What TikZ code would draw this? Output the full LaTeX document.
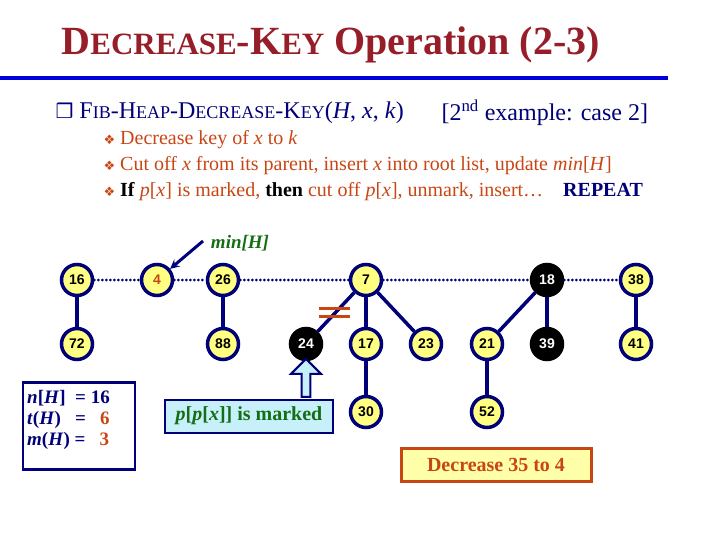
\documentclass[tikz,border=0pt]{standalone}
\usepackage{fontspec}
\setmainfont{Liberation Serif}
\newfontfamily\arialfont{Liberation Sans}
\newfontfamily\symfont{DejaVu Sans}
\usetikzlibrary{shapes.arrows}
\definecolor{titlered}{RGB}{150,30,40}
\definecolor{rulblue}{RGB}{0,0,220}
\definecolor{navy}{RGB}{0,0,120}
\definecolor{textred}{RGB}{200,70,20}
\definecolor{keyyel}{RGB}{255,255,130}
\definecolor{mingreen}{RGB}{20,110,20}
\definecolor{boxcyan}{RGB}{200,240,250}
\definecolor{boxyel}{RGB}{255,255,170}
\tikzset{
  key/.style={circle,draw=navy,line width=3.5pt,fill=keyyel,minimum size=31pt,inner sep=0pt,font=\arialfont\bfseries\fontsize{14}{14}\selectfont},
  marked/.style={key,draw=black,fill=black,text=white},
  tree/.style={draw=navy,line width=3.5pt},
  rootlist/.style={draw=navy,line width=3pt,line cap=round,dash pattern=on 0pt off 4pt}
}
\begin{document}
\begin{tikzpicture}[x=1pt,y=-1pt]
    \useasboundingbox (0,0) rectangle (720,540);

    % title and rule
    \node[anchor=west,text=titlered,font=\bfseries] at (58,45)
      {{\fontsize{40}{40}\selectfont D}{\fontsize{31}{31}\selectfont ECREASE}{\fontsize{40}{40}\selectfont -K}{\fontsize{31}{31}\selectfont EY}{\fontsize{40}{40}\selectfont\ Operation (2-3)}};
    \fill[rulblue] (0,76) rectangle (668,80);

    % header line
    \node[anchor=west,text=navy,font=\fontsize{24}{24}\selectfont] (head) at (52,113)
      {{\symfont\fontsize{20}{20}\selectfont\char"2752}\ F{\fontsize{18}{18}\selectfont IB}-H{\fontsize{18}{18}\selectfont EAP}-D{\fontsize{18}{18}\selectfont ECREASE}-K{\fontsize{18}{18}\selectfont EY}(\textit{H}, \textit{x}, \textit{k})};
    \node[anchor=west,text=navy,font=\fontsize{24}{24}\selectfont] (case) at (438,113)
      {[2\textsuperscript{nd} example: case 2]};

    % bullets
    \node[anchor=west,text=textred,font=\fontsize{20}{20}\selectfont] (b1) at (100,140)
      {{\symfont\fontsize{13}{13}\selectfont\char"2756}\ Decrease key of \textit{x} to \textit{k}};
    \node[anchor=west,text=textred,font=\fontsize{20}{20}\selectfont] (b2) at (100,166)
      {{\symfont\fontsize{13}{13}\selectfont\char"2756}\ Cut off \textit{x} from its parent, insert \textit{x} into root list, update \textit{min}[\textit{H}]};
    \node[anchor=west,text=textred,font=\fontsize{20}{20}\selectfont] (b3) at (100,192)
      {{\symfont\fontsize{13}{13}\selectfont\char"2756}\ \textcolor{black}{\textbf{If}} \textit{p}[\textit{x}] is marked, \textcolor{black}{\textbf{then}} cut off \textit{p}[\textit{x}], unmark, insert\ldots\quad \textcolor{navy}{\textbf{REPEAT}}};

    % root list
    \node[key] (k16) at (77,280) {16};
    \node[key,text=textred] (k4) at (157,280) {4};
    \node[key] (k26) at (223,280) {26};
    \node[key] (k7) at (366,280) {7};
    \node[marked] (k18) at (547,280) {18};
    \node[key] (k38) at (636,280) {38};
    % second level
    \node[key] (k72) at (77,344) {72};
    \node[key] (k88) at (223,344) {88};
    \node[marked] (k24) at (306,344) {24};
    \node[key] (k17) at (366,344) {17};
    \node[key] (k23) at (426,344) {23};
    \node[key] (k21) at (487,344) {21};
    \node[marked] (k39) at (547,344) {39};
    \node[key] (k41) at (636,344) {41};
    % third level
    \node[key] (k30) at (366,412) {30};
    \node[key] (k52) at (487,412) {52};

    \draw[rootlist] (k16) -- (k4);
    \draw[rootlist] (k4) -- (k26);
    \draw[rootlist] (k26) -- (k7);
    \draw[rootlist] (k7) -- (k18);
    \draw[rootlist] (k18) -- (k38);

    \draw[tree] (k16) -- (k72);
    \draw[tree] (k26) -- (k88);
    \draw[tree] (k7) -- (k24);
    \draw[tree] (k7) -- (k17);
    \draw[tree] (k7) -- (k23);
    \draw[tree] (k17) -- (k30);
    \draw[tree] (k18) -- (k21);
    \draw[tree] (k18) -- (k39);
    \draw[tree] (k21) -- (k52);
    \draw[tree] (k38) -- (k41);

    % cut mark
    \draw[textred,line width=3pt] (319,308) -- (350,308);
    \draw[textred,line width=3pt] (319,316) -- (350,316);

    % min pointer
    \node[text=mingreen,font=\fontsize{19}{19}\selectfont\bfseries\itshape] (minH) at (240,243) {min[H]};
    \coordinate (mintail) at (203,241);
    \draw[navy,line width=3pt,-stealth] (mintail) -- (k4);

    % marked parent note
    \node[draw=navy,line width=2pt,fill=boxcyan,minimum width=168pt,minimum height=33pt,font=\fontsize{20}{20}\selectfont\bfseries,text=mingreen] (note) at (249,416)
      {\textit{p}[\textit{p}[\textit{x}]] is marked};
    \node[single arrow,shape border rotate=90,draw=navy,line width=2pt,fill=boxcyan,minimum width=30pt,single arrow head extend=5pt,minimum height=38pt,inner sep=1pt] (up) at (306,380) {};

    % counts
    \node[draw=navy,line width=2.5pt,minimum width=112pt,minimum height=87pt] (cnt) at (79,426) {};
    \node[anchor=north west,align=left,inner sep=0pt,font=\fontsize{19}{21}\selectfont\bfseries,text=navy] (cnttxt) at (27,390)
      {\textit{n}[\textit{H}]\ \ = 16\\
       \textit{t}(\textit{H})\ \ \ =\ \ \ \textcolor{textred}{6}\\
       \textit{m}(\textit{H}) =\ \ \ \textcolor{textred}{3}};

    % operation box
    \node[draw=textred,line width=3pt,fill=boxyel,minimum width=190pt,minimum height=33pt,text=textred,font=\fontsize{20}{20}\selectfont\bfseries] (op) at (496,465) {Decrease 35 to 4};
\end{tikzpicture}
\end{document}
